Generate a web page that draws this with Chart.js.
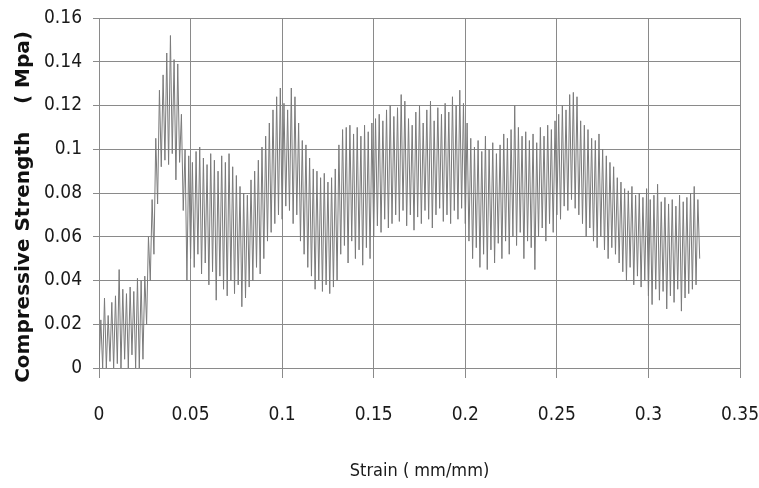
<!DOCTYPE html>
<html>
<head>
<meta charset="utf-8">
<script src="https://cdn.jsdelivr.net/npm/chart.js@4.4.0/dist/chart.umd.min.js"></script>
<style>
html,body{margin:0;padding:0;background:#fff;}
#wrap{width:759px;height:488px;position:relative;}
</style>
</head>
<body>
<div id="wrap"><canvas id="c"></canvas></div>
<script>
// Strain (mm/mm)
const strain = [
0,0.001,0.002,0.003,0.004,0.005,0.006,0.007,0.008,0.009,
0.010,0.011,0.012,0.013,0.014,0.015,0.016,0.017,0.018,0.019,
0.020,0.021,0.022,0.023,0.024,0.025,0.026,0.027,0.028,0.029,
0.030,0.031,0.032,0.033,0.034,0.035,0.036,0.037,0.038,0.039,
0.040,0.041,0.042,0.043,0.044,0.045,0.046,0.047,0.048,0.049,
0.050,0.051,0.052,0.053,0.054,0.055,0.056,0.057,0.058,0.059,
0.060,0.061,0.062,0.063,0.064,0.065,0.066,0.067,0.068,0.069,
0.070,0.071,0.072,0.073,0.074,0.075,0.076,0.077,0.078,0.079,
0.080,0.081,0.082,0.083,0.084,0.085,0.086,0.087,0.088,0.089,
0.090,0.091,0.092,0.093,0.094,0.095,0.096,0.097,0.098,0.099,
0.100,0.101,0.102,0.103,0.104,0.105,0.106,0.107,0.108,0.109,
0.110,0.111,0.112,0.113,0.114,0.115,0.116,0.117,0.118,0.119,
0.120,0.121,0.122,0.123,0.124,0.125,0.126,0.127,0.128,0.129,
0.130,0.131,0.132,0.133,0.134,0.135,0.136,0.137,0.138,0.139,
0.140,0.141,0.142,0.143,0.144,0.145,0.146,0.147,0.148,0.149,
0.150,0.151,0.152,0.153,0.154,0.155,0.156,0.157,0.158,0.159,
0.160,0.161,0.162,0.163,0.164,0.165,0.166,0.167,0.168,0.169,
0.170,0.171,0.172,0.173,0.174,0.175,0.176,0.177,0.178,0.179,
0.180,0.181,0.182,0.183,0.184,0.185,0.186,0.187,0.188,0.189,
0.190,0.191,0.192,0.193,0.194,0.195,0.196,0.197,0.198,0.199,
0.200,0.201,0.202,0.203,0.204,0.205,0.206,0.207,0.208,0.209,
0.210,0.211,0.212,0.213,0.214,0.215,0.216,0.217,0.218,0.219,
0.220,0.221,0.222,0.223,0.224,0.225,0.226,0.227,0.228,0.229,
0.230,0.231,0.232,0.233,0.234,0.235,0.236,0.237,0.238,0.239,
0.240,0.241,0.242,0.243,0.244,0.245,0.246,0.247,0.248,0.249,
0.250,0.251,0.252,0.253,0.254,0.255,0.256,0.257,0.258,0.259,
0.260,0.261,0.262,0.263,0.264,0.265,0.266,0.267,0.268,0.269,
0.270,0.271,0.272,0.273,0.274,0.275,0.276,0.277,0.278,0.279,
0.280,0.281,0.282,0.283,0.284,0.285,0.286,0.287,0.288,0.289,
0.290,0.291,0.292,0.293,0.294,0.295,0.296,0.297,0.298,0.299,
0.300,0.301,0.302,0.303,0.304,0.305,0.306,0.307,0.308,0.309,
0.310,0.311,0.312,0.313,0.314,0.315,0.316,0.317,0.318,0.319,
0.320,0.321,0.322,0.323,0.324,0.325,0.326,0.327,0.328
];

// Compressive strength (MPa)
const strength = [
0,0.022,0,0.032,0,0.024,0.003,0.03,0,0.033,
0.002,0.045,0,0.036,0.004,0.034,0,0.037,0.006,0.035,
0,0.041,0,0.04,0.004,0.042,0.02,0.06,0.04,0.077,
0.052,0.105,0.075,0.127,0.092,0.134,0.095,0.144,0.093,0.152,
0.098,0.141,0.086,0.139,0.094,0.116,0.072,0.1,0.04,0.097,
0.05,0.094,0.046,0.099,0.052,0.101,0.043,0.096,0.048,0.093,
0.038,0.098,0.044,0.095,0.031,0.09,0.042,0.097,0.036,0.094,
0.033,0.098,0.04,0.092,0.034,0.088,0.038,0.083,0.028,0.08,
0.032,0.079,0.037,0.086,0.04,0.09,0.046,0.095,0.043,0.101,
0.05,0.106,0.058,0.112,0.062,0.118,0.066,0.124,0.07,0.128,
0.068,0.121,0.074,0.118,0.072,0.128,0.066,0.124,0.07,0.112,
0.058,0.104,0.052,0.102,0.046,0.096,0.042,0.091,0.036,0.09,
0.04,0.087,0.035,0.089,0.038,0.085,0.034,0.087,0.037,0.091,
0.04,0.102,0.052,0.109,0.056,0.11,0.048,0.111,0.058,0.107,
0.05,0.11,0.054,0.106,0.047,0.111,0.055,0.108,0.05,0.112,
0.06,0.114,0.065,0.116,0.062,0.113,0.068,0.118,0.064,0.12,
0.066,0.115,0.07,0.119,0.067,0.125,0.072,0.122,0.065,0.114,
0.07,0.111,0.063,0.117,0.069,0.12,0.066,0.112,0.072,0.118,
0.068,0.122,0.064,0.113,0.07,0.119,0.073,0.116,0.067,0.121,
0.07,0.117,0.066,0.124,0.072,0.12,0.068,0.127,0.073,0.121,
0.066,0.112,0.058,0.105,0.05,0.101,0.055,0.104,0.046,0.099,
0.052,0.106,0.045,0.1,0.054,0.103,0.048,0.098,0.057,0.102,
0.05,0.107,0.058,0.105,0.052,0.109,0.06,0.12,0.056,0.11,
0.062,0.106,0.05,0.108,0.058,0.104,0.055,0.107,0.045,0.103,
0.06,0.11,0.064,0.106,0.058,0.111,0.066,0.109,0.062,0.113,
0.07,0.116,0.068,0.12,0.074,0.118,0.072,0.125,0.077,0.126,
0.073,0.124,0.07,0.113,0.066,0.111,0.06,0.109,0.064,0.105,
0.058,0.104,0.055,0.107,0.06,0.1,0.054,0.097,0.05,0.094,
0.055,0.092,0.052,0.087,0.048,0.085,0.044,0.082,0.04,0.081,
0.046,0.083,0.038,0.079,0.042,0.08,0.037,0.078,0.04,0.082,
0.033,0.077,0.029,0.079,0.036,0.084,0.031,0.076,0.035,0.078,
0.027,0.075,0.033,0.077,0.03,0.074,0.036,0.079,0.026,0.076,
0.032,0.078,0.034,0.08,0.036,0.083,0.038,0.077,0.05
];

const xTickLabels = ['0','0.05','0.1','0.15','0.2','0.25','0.3','0.35'];
const yTickLabels = ['0','0.02','0.04','0.06','0.08','0.1','0.12','0.14','0.16'];
const xTitle = 'Strain ( mm/mm)';
const yTitle = 'Compressive Strength    ( Mpa)    ';

const points = strain.map((s, i) => ({x: s, y: strength[i]}));

const narrow = "'Liberation Sans Narrow','Arial Narrow','DejaVu Sans Condensed',sans-serif";
const gridColor = '#8a8a8a';

new Chart(document.getElementById('c'), {
  type: 'line',
  data: {
    datasets: [{
      data: points,
      borderColor: '#7a7a7a',
      borderWidth: 1,
      pointRadius: 0,
      tension: 0,
      fill: false
    }]
  },
  options: {
    responsive: true,
    maintainAspectRatio: false,
    animation: false,
    parsing: false,
    normalized: true,
    layout: {padding: {left: 0, right: 19, top: 18, bottom: 0}},
    plugins: {legend: {display: false}, tooltip: {enabled: false}},
    scales: {
      x: {
        type: 'linear',
        min: 0, max: 0.35,
        ticks: {
          stepSize: 0.05,
          padding: 26,
          color: '#1a1a1a',
          font: {family: narrow, size: 19},
          maxRotation: 0,
          callback: (v, i) => xTickLabels[i]
        },
        grid: {color: gridColor, lineWidth: 1, tickLength: 10, drawTicks: true},
        border: {color: gridColor, width: 1},
        title: {
          display: true, text: xTitle, color: '#1a1a1a',
          font: {family: narrow, size: 18},
          padding: {top: 0, bottom: 6}
        },
        afterFit: (s) => { s.height = 120; s.paddingLeft = 0; s.paddingRight = 0; }
      },
      y: {
        min: 0, max: 0.16,
        ticks: {
          stepSize: 0.02,
          padding: 11,
          color: '#1a1a1a',
          font: {family: narrow, size: 19},
          callback: (v, i) => yTickLabels[i]
        },
        grid: {color: gridColor, lineWidth: 1, tickLength: 6, drawTicks: true},
        border: {color: gridColor, width: 1},
        title: {
          display: true, text: yTitle, color: '#111',
          font: {family: "'DejaVu Sans',Verdana,sans-serif", size: 20, weight: 'bold'},
          padding: {top: 12, bottom: 0}
        },
        afterFit: (s) => { s.width = 99; s.paddingTop = 0; s.paddingBottom = 0; }
      }
    }
  }
});
</script>
</body>
</html>
